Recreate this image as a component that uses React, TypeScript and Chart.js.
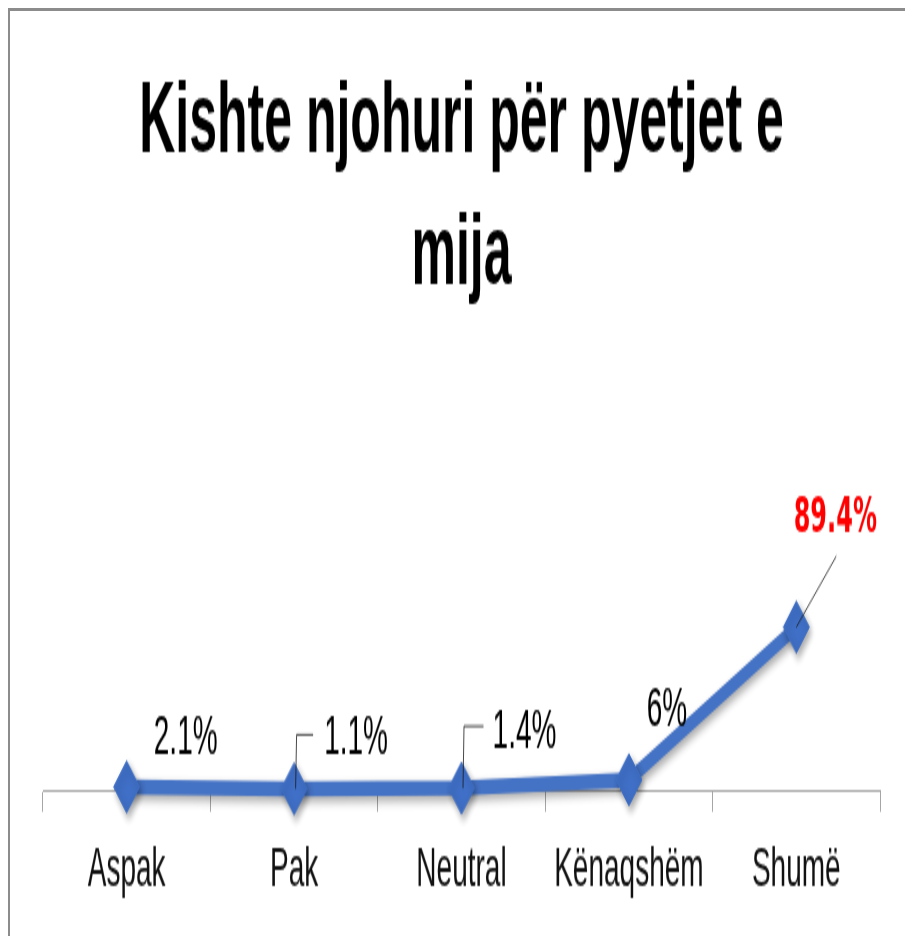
import React, { useEffect, useRef } from 'react';
import { Chart, registerables } from 'chart.js';

Chart.register(...registerables);

const categories = ['Aspak', 'Pak', 'Neutral', 'Kënaqshëm', 'Shumë'];
const values = [2.1, 1.1, 1.4, 6, 89.4];
const titleLines = ['Kishte njohuri për pyetjet e', 'mija'];

// label placement relative to each data point (canvas units)
const labelStyles = [
  { dx: 59, dy: -16.6, color: '#000000', font: 'normal 28px "Liberation Sans"', leader: null },
  { dx: 62, dy: -17.5, color: '#000000', font: 'normal 28px "Liberation Sans"', leader: [[1.5, 0], [2.5, -27], [19, -27]] },
  { dx: 63, dy: -19.7, color: '#000000', font: 'normal 28px "Liberation Sans"', leader: [[1.5, 0], [2.5, -31], [22, -31]] },
  { dx: 38, dy: -26.6, color: '#000000', font: 'normal 28px "Liberation Sans"', leader: null },
  { dx: 39, dy: -47.5, color: '#FF0000', font: 'bold 24px "DejaVu Sans"', leader: [[0, 0], [40, -35.5]] },
];

const decorPlugin = {
  id: 'decor',
  beforeDatasetsDraw(chart: any) {
    const ctx = chart.ctx;
    ctx.save();
    ctx.shadowColor = 'rgba(0,0,0,0.35)';
    ctx.shadowBlur = 5;
    ctx.shadowOffsetX = 2;
    ctx.shadowOffsetY = 2.5;
  },
  afterDatasetsDraw(chart: any) {
    const ctx = chart.ctx;
    ctx.restore();
    const meta = chart.getDatasetMeta(0);
    ctx.save();
    meta.data.forEach((pt: any, i: number) => {
      const st = labelStyles[i];
      const v = values[i];
      if (st.leader) {
        ctx.beginPath();
        ctx.strokeStyle = '#1a1a1a';
        ctx.lineWidth = 0.8;
        st.leader.forEach((p: number[], k: number) => {
          if (k === 0) ctx.moveTo(pt.x + p[0], pt.y + p[1]);
          else ctx.lineTo(pt.x + p[0], pt.y + p[1]);
        });
        ctx.stroke();
      }
      ctx.font = st.font;
      ctx.fillStyle = st.color;
      ctx.textAlign = 'center';
      ctx.textBaseline = 'alphabetic';
      ctx.fillText(String(v) + '%', pt.x + st.dx, pt.y + st.dy);
    });
    ctx.restore();
  },
};

export default function App() {
  const ref = useRef<HTMLCanvasElement | null>(null);
  useEffect(() => {
    if (!ref.current) return;
    const chart = new Chart(ref.current, {
      type: 'line',
      data: {
        labels: categories,
        datasets: [
          {
            data: values,
            borderColor: '#4472C4',
            backgroundColor: '#4472C4',
            borderWidth: 7.5,
            tension: 0,
            pointStyle: 'rectRot',
            pointRadius: 13,
            pointBorderWidth: 1,
            pointBackgroundColor: '#3F6FC6',
            pointBorderColor: '#3F6FC6',
            clip: false,
          } as any,
        ],
      },
      options: {
        responsive: false,
        animation: false,
        devicePixelRatio: 1,
        layout: { padding: { left: 35, right: 36, top: 0, bottom: 19.5 } },
        plugins: {
          legend: { display: false },
          tooltip: { enabled: false },
          title: {
            display: true,
            text: titleLines,
            color: '#000000',
            font: { family: 'Liberation Sans', weight: 'bold', size: 50, lineHeight: 1.32 },
            padding: { top: 25.7, bottom: 142.2 },
          },
        },
        scales: {
          x: {
            type: 'category',
            offset: true,
            grid: {
              offset: true,
              drawOnChartArea: false,
              drawTicks: true,
              tickLength: 10.5,
              color: '#a6a6a6',
              lineWidth: 1,
            },
            border: { display: true, color: '#a6a6a6', width: 1 },
            ticks: {
              color: '#111111',
              padding: 12.5,
              font: { family: 'Liberation Sans', size: 28 },
              maxRotation: 0,
              autoSkip: false,
            },
          },
          y: {
            display: false,
            min: 0,
            max: 100,
          },
        },
      },
      plugins: [decorPlugin],
    });
    return () => chart.destroy();
  }, []);

  return (
    <div
      style={{
        position: 'fixed',
        top: 8,
        left: 8,
        right: 0,
        bottom: 0,
        overflow: 'hidden',
        background: '#ffffff',
      }}
    >
      <canvas
        ref={ref}
        width={908}
        height={480}
        style={{ position: 'absolute', left: 0, top: 0, width: '908px', height: '960px', display: 'block' }}
      />
      <div
        style={{
          position: 'absolute',
          left: 0,
          top: 0,
          width: '100%',
          height: '100%',
          boxSizing: 'border-box',
          borderTop: '3px solid #8c8c8c',
          borderLeft: '2px solid #8c8c8c',
          pointerEvents: 'none',
        }}
      />
    </div>
  );
}
